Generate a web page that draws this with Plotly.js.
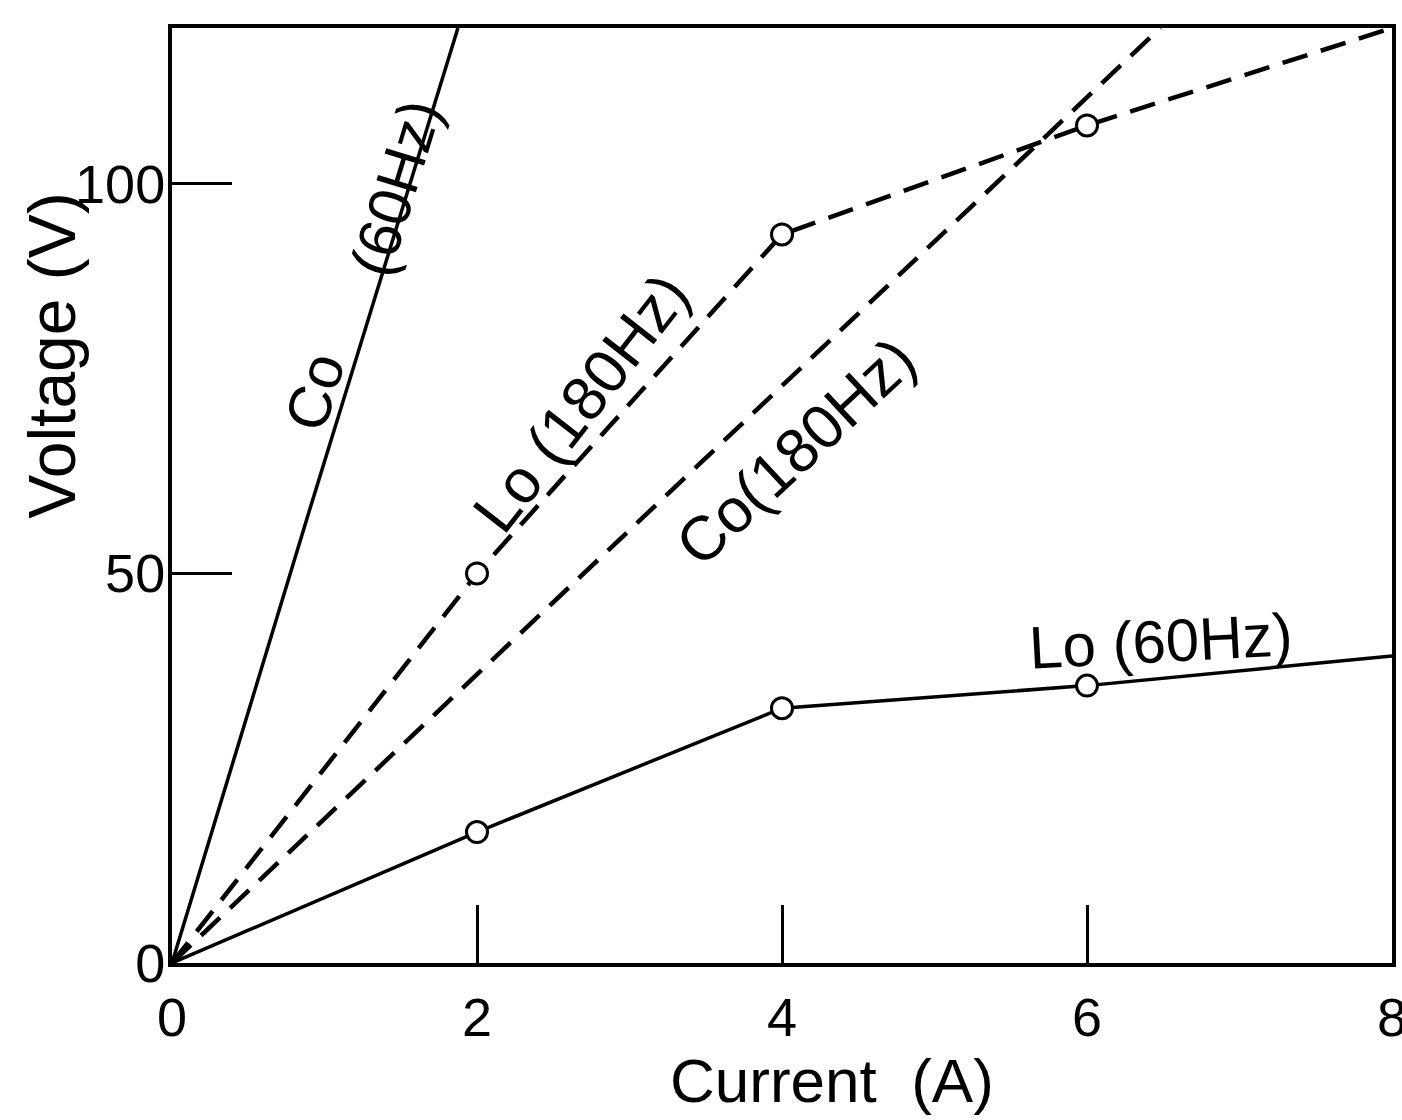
<!DOCTYPE html>
<html>
<head>
<meta charset="utf-8">
<script src="https://cdn.plot.ly/plotly-3.0.1.min.js"></script>
<style>
  html, body { margin: 0; padding: 0; background: #fff; }
  #chart { width: 1402px; height: 1120px; }
</style>
</head>
<body>
<div id="chart"></div>
<script>
// ---- data ----
const co60_current = [0, 0.9, 1.875];
const co60_voltage = [0, 58, 120];

const lo180_current = [0, 2, 4, 6, 8];
const lo180_voltage = [0, 50, 93.5, 107.5, 120];

const co180_current = [0, 6.48];
const co180_voltage = [0, 120];

const lo60_current = [0, 2, 4, 6, 8];
const lo60_voltage = [0, 16.8, 32.7, 35.6, 39.4];

const xTicks = [0, 2, 4, 6, 8];
const yTicks = [0, 50, 100];

const FONT = "Liberation Sans, Arial, sans-serif";
const INK = "#000";

const lineTrace = (x, y, dash, w) => ({
  x, y, type: "scatter", mode: "lines",
  line: { color: INK, width: w, dash: dash },
  hoverinfo: "skip", showlegend: false
});
const markerTrace = (x, y) => ({
  x, y, type: "scatter", mode: "markers",
  marker: { symbol: "circle", size: 21, color: "#fff", line: { color: INK, width: 3 } },
  hoverinfo: "skip", showlegend: false, cliponaxis: false
});

const data = [
  lineTrace(co60_current, co60_voltage, "solid", 3.5),
  lineTrace(co180_current, co180_voltage, "26px,14px", 4.5),
  lineTrace(lo180_current, lo180_voltage, "26px,14px", 4.5),
  lineTrace(lo60_current, lo60_voltage, "solid", 3.5),
  markerTrace(lo180_current.slice(1, 4), lo180_voltage.slice(1, 4)),
  markerTrace(lo60_current.slice(1, 4), lo60_voltage.slice(1, 4))
];

const ann = (text, x, y, angle, size) => ({
  text, x, y, xref: "x", yref: "y", showarrow: false,
  textangle: angle, xanchor: "center", yanchor: "middle",
  font: { family: FONT, size: size, color: INK }
});

const layout = {
  width: 1402, height: 1120,
  margin: { l: 172, r: 10, t: 28, b: 157 },
  paper_bgcolor: "#fff", plot_bgcolor: "#fff",
  showlegend: false,
  font: { family: FONT, color: INK, size: 56 },
  xaxis: {
    range: [0, 8], tickvals: xTicks, ticktext: xTicks.map(String),
    ticks: "inside", ticklen: 58, tickwidth: 3, tickcolor: INK,
    showline: true, linewidth: 4, linecolor: INK, mirror: true,
    showgrid: false, zeroline: false, ticklabelstandoff: 4,
    ticklabeloverflow: "allow",
    tickfont: { family: FONT, size: 54, color: INK }
  },
  yaxis: {
    range: [0, 120], tickvals: yTicks, ticktext: yTicks.map(String),
    ticks: "inside", ticklen: 60, tickwidth: 3, tickcolor: INK,
    showline: true, linewidth: 4, linecolor: INK, mirror: true,
    showgrid: false, zeroline: false, ticklabelstandoff: -8,
    ticklabeloverflow: "allow",
    tickfont: { family: FONT, size: 54, color: INK }
  },
  annotations: [
    { text: "Voltage (V)", xref: "paper", yref: "paper", x: -0.098, y: 0.65,
      textangle: -90, showarrow: false, xanchor: "center", yanchor: "middle",
      font: { family: FONT, size: 66, color: INK } },
    { text: "Current\u00a0\u00a0(A)", xref: "paper", yref: "paper", x: 0.541, y: -0.126,
      showarrow: false, xanchor: "center", yanchor: "middle",
      font: { family: FONT, size: 62, color: INK } },
    ann("Co", 0.94, 73.3, -73, 60),
    ann("(60Hz)", 1.47, 99.5, -73, 60),
    ann("Lo (180Hz)", 2.68, 72, -52, 62),
    ann("Co(180Hz)", 4.09, 65.6, -43, 62),
    ann("Lo (60Hz)", 6.48, 41.3, -3, 60)
  ]
};

Plotly.newPlot("chart", data, layout, { staticPlot: true, displayModeBar: false });
</script>
</body>
</html>
